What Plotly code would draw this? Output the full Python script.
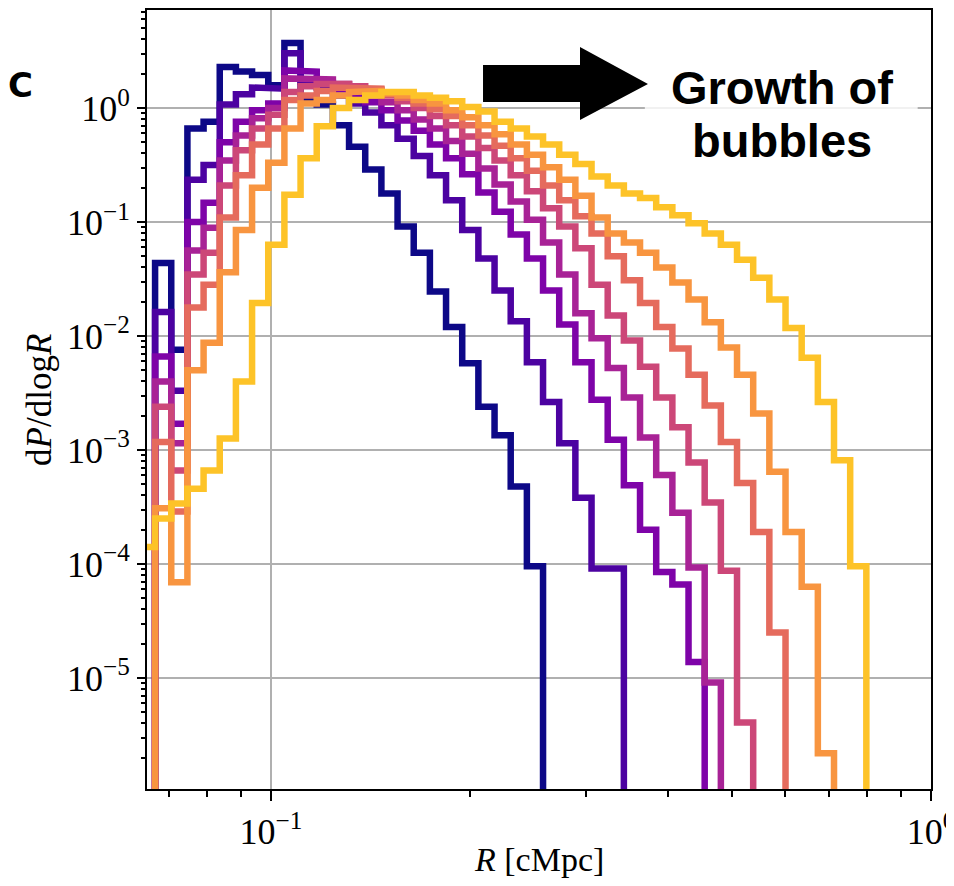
import numpy as np
import plotly.graph_objects as go

# 49 logarithmic bins in R [cMpc] from 10^-1.2 to 10^0
bin_edges = np.logspace(-1.2, 0.0, 50)

N = None
# log10(dP/dlogR) per bin (None = empty bin)
s0_log = [N, -1.36, -2.12, -0.18, -0.12, 0.36, 0.32, 0.29, 0.20, 0.57, 0.09, 0.03, -0.15, -0.34, -0.54, -0.75,
          -1.04, -1.27, -1.61, -1.92, -2.24, -2.62, -2.87, -3.32, -4.02] + [N] * 24
s1_log = [N, -1.79, -2.48, -0.63, -0.50, 0.03, 0.12, 0.18, 0.17, 0.48, 0.23, 0.18, 0.11, 0.04, -0.04, -0.15,
          -0.27, -0.42, -0.59, -0.81, -1.07, -1.32, -1.60, -1.87, -2.23, -2.58, -2.94, -3.42, -4.04, -4.04] + [N] * 19
s2_log = [N, -2.18, -2.77, -1.00, -0.83, -0.30, -0.12, -0.02, 0.04, 0.33, 0.32, 0.22, 0.17, 0.11, 0.05, -0.02,
          -0.11, -0.20, -0.32, -0.44, -0.58, -0.74, -0.91, -1.11, -1.32, -1.60, -1.90, -2.23, -2.56, -2.91, -3.31,
          -3.70, -4.07, -4.18, -4.86] + [N] * 14
s3_log = [N, -2.40, -2.94, -1.25, -1.05, -0.46, -0.24, -0.09, 0.00, 0.26, 0.26, 0.25, 0.21, 0.17, 0.11, 0.05,
          -0.02, -0.10, -0.18, -0.29, -0.40, -0.53, -0.67, -0.82, -0.98, -1.18, -1.46, -1.80, -2.02, -2.28, -2.54,
          -2.89, -3.22, -3.55, -4.03, -5.04] + [N] * 13
s4_log = [N, -2.62, -3.18, -1.46, -1.27, -0.68, -0.37, -0.18, -0.06, 0.14, 0.19, 0.21, 0.21, 0.19, 0.16, 0.11,
          0.06, 0.00, -0.07, -0.15, -0.25, -0.35, -0.46, -0.59, -0.73, -0.88, -1.04, -1.23, -1.55, -1.82, -2.04,
          -2.27, -2.54, -2.80, -3.11, -3.46, -4.06, -5.39] + [N] * 11
s5_log = [N, -2.93, -3.54, -1.75, -1.55, -0.96, -0.59, -0.32, -0.18, 0.07, 0.11, 0.15, 0.18, 0.18, 0.17, 0.12,
          0.09, 0.04, -0.01, -0.07, -0.15, -0.24, -0.33, -0.44, -0.55, -0.68, -0.81, -0.95, -1.10, -1.30, -1.51,
          -1.71, -1.92, -2.11, -2.34, -2.61, -2.93, -3.29, -3.72, -4.60] + [N] * 9
s6_log = [N, -3.51, -4.16, -2.30, -2.06, -1.44, -1.07, -0.70, -0.48, -0.18, 0.04, 0.07, 0.11, 0.14, 0.15, 0.13,
          0.11, 0.07, 0.04, -0.02, -0.08, -0.15, -0.23, -0.32, -0.41, -0.52, -0.63, -0.77, -0.96, -1.10, -1.18,
          -1.27, -1.40, -1.53, -1.68, -1.88, -2.10, -2.34, -2.68, -3.19, -3.72, -4.20, -5.66] + [N] * 6
s7_log = [-3.85, -3.60, -3.47, -3.34, -3.18, -2.90, -2.40, -1.71, -1.20, -0.76, -0.44, -0.16, 0.00, 0.07, 0.11,
          0.14, 0.14, 0.11, 0.09, 0.06, 0.01, -0.03, -0.12, -0.18, -0.25, -0.32, -0.41, -0.49, -0.60, -0.68, -0.75,
          -0.79, -0.87, -0.94, -1.01, -1.10, -1.20, -1.33, -1.49, -1.68, -1.93, -2.19, -2.58, -3.09, -4.02] + [N] * 4

series_logs = [s0_log, s1_log, s2_log, s3_log, s4_log, s5_log, s6_log, s7_log]
colors = ["#0d0887", "#4c02a1", "#7e03a8", "#a82296", "#cc4778", "#e56b5d", "#f89540", "#fdc328"]

x_tick_vals = [0.1, 1.0]
x_tick_text = ["10<sup>−1</sup>", "10<sup>0</sup>"]
y_tick_vals = [1e-5, 1e-4, 1e-3, 1e-2, 1e-1, 1e0]
y_tick_text = ["10<sup>−5</sup>", "10<sup>−4</sup>", "10<sup>−3</sup>", "10<sup>−2</sup>",
               "10<sup>−1</sup>", "10<sup>0</sup>"]

FLOOR = 1e-12  # empty bins drop below the axis, like a step histogram


def step_path(edges, logs):
    vals = [FLOOR if v is None else 10.0 ** v for v in logs]
    xs, ys = [edges[0]], [FLOOR]
    for i, v in enumerate(vals):
        xs += [edges[i], edges[i + 1]]
        ys += [v, v]
    xs.append(edges[-1])
    ys.append(FLOOR)
    return xs, ys


fig = go.Figure()
for logs, col in zip(series_logs, colors):
    xs, ys = step_path(bin_edges, logs)
    fig.add_trace(go.Scatter(x=xs, y=ys, mode="lines", line=dict(color=col, width=6.5),
                             showlegend=False, hoverinfo="skip"))

serif = "Liberation Serif, Times New Roman, serif"
sans = "Liberation Sans, Arial, sans-serif"
minor_x = [k * 10.0 ** e for e in (-2, -1) for k in range(2, 10)]
minor_y = [k * 10.0 ** e for e in range(-7, 1) for k in range(2, 10)]

fig.update_xaxes(type="log", range=[np.log10(0.0649), 0.0], automargin=False,
                 tickvals=x_tick_vals, ticktext=x_tick_text, ticklabeloverflow="allow",
                 ticks="outside", ticklen=10, tickwidth=2, tickcolor="black",
                 showline=True, linecolor="black", linewidth=2, mirror=True,
                 showgrid=True, gridcolor="#b0b0b0", gridwidth=1.5, zeroline=False,
                 tickfont=dict(family=serif, size=36, color="black"),
                 minor=dict(tickvals=minor_x, ticks="outside", ticklen=6, tickwidth=1.5,
                            tickcolor="black", showgrid=False))
fig.update_yaxes(type="log", range=[-5.974, 0.86], automargin=False,
                 tickvals=y_tick_vals, ticktext=y_tick_text,
                 ticks="outside", ticklen=8, tickwidth=2, tickcolor="black",
                 showline=True, linecolor="black", linewidth=2, mirror=True,
                 showgrid=True, gridcolor="#b0b0b0", gridwidth=1.5, zeroline=False,
                 tickfont=dict(family=serif, size=36, color="black"),
                 minor=dict(tickvals=minor_y, ticks="outside", ticklen=4, tickwidth=1.5,
                            tickcolor="black", showgrid=False))

# axis titles
fig.add_annotation(xref="paper", yref="paper", x=0.5, y=-0.091, xanchor="center", yanchor="middle",
                   text="<i>R</i> [cMpc]", showarrow=False,
                   font=dict(family=serif, size=34, color="black"))
fig.add_annotation(xref="paper", yref="paper", x=-0.1365, y=0.4994, xanchor="center", yanchor="middle",
                   text="d<i>P</i>/dlog<i>R</i>", showarrow=False, textangle=-90,
                   font=dict(family=serif, size=35, color="black"))

# white box behind the text, arrow and text
fig.add_shape(type="rect", xref="paper", yref="paper", x0=0.635, x1=0.983, y0=0.80, y1=0.94,
              fillcolor="rgba(255,255,255,0.82)", line=dict(width=0), layer="above")
fig.add_shape(type="path", xref="paper", yref="paper",
              path="M 0.4286,0.8819 L 0.5523,0.8819 L 0.5523,0.8588 L 0.639,0.905 "
                   "L 0.5523,0.9525 L 0.5523,0.9294 L 0.4286,0.9294 Z",
              fillcolor="black", line=dict(width=0), layer="above")
fig.add_annotation(xref="paper", yref="paper", x=0.81, y=(789 - 87) / 779, xanchor="center",
                   yanchor="middle", text="<b>Growth of</b>", showarrow=False,
                   font=dict(family=sans, size=47, color="black"))
fig.add_annotation(xref="paper", yref="paper", x=0.81, y=(789 - 140) / 779, xanchor="center",
                   yanchor="middle", text="<b>bubbles</b>", showarrow=False,
                   font=dict(family=sans, size=47, color="black"))
fig.add_annotation(xref="paper", yref="paper", x=(20 - 147) / 784, y=(789 - 85) / 779,
                   xanchor="center", yanchor="middle", text="<b>C</b>", showarrow=False,
                   font=dict(family="DejaVu Sans, sans-serif", size=34, color="black"))

# the page body adds an 8 px offset; the figure is sized so the plot area lands
# at x 147..931, y 10..789 of the 954x886 window
fig.update_layout(width=946, height=878, margin=dict(l=139, r=23, t=2, b=97),
                  paper_bgcolor="white", plot_bgcolor="white")

fig.write_html("out.html")
